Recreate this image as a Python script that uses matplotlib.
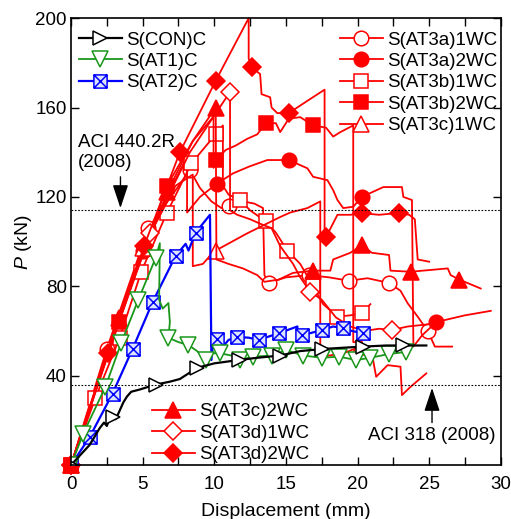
import numpy as np
import matplotlib
matplotlib.use("Agg")
import matplotlib.pyplot as plt
from matplotlib.path import Path

plt.rcParams['font.family'] = ['Liberation Sans', 'DejaVu Sans']
plt.rcParams['mathtext.fontset'] = 'custom'
plt.rcParams['mathtext.it'] = 'Liberation Sans:italic'
plt.rcParams['mathtext.rm'] = 'Liberation Sans'
FS = 13.5

# ---- data (displacement mm, load kN) ----
con_x = [0, 1.3, 2.0, 2.3, 2.5, 2.7, 2.9, 3.1, 3.3, 3.65, 3.9, 4.2, 4.8, 5.9, 6.9, 7.6, 8.8, 10, 11.7, 13, 14.6, 16, 17.5, 19, 20.4, 22, 23.2, 24.8]
con_p = [0, 9, 16.5, 19, 17.5, 21, 21.5, 20.5, 23, 28, 30.6, 32.8, 33.8, 36, 37.3, 38.5, 43.5, 45.5, 47, 48, 49, 51, 51.9, 52.5, 53, 53.5, 53.5, 53.5]
con_mk = [0, 6, 13, 16, 18, 20, 22, 24, 26]

at1_x = [0, 0.85, 2.4, 3.5, 4.7, 5.9, 6.2, 6.15, 6.4, 6.8, 6.9, 6.8, 7.5, 8.2, 8.8, 9.4, 9.9, 10.4, 11.2, 11.8, 12.7, 14, 15, 16.2, 17.5, 18.7, 19.9, 20.9, 22.2, 23.4]
at1_p = [0, 14, 35, 54.6, 74, 92.6, 99.3, 74, 70, 72.5, 64, 57, 55, 53.7, 51, 47, 50, 50, 49, 47, 48.5, 49, 51.5, 49, 48, 48.5, 47, 48, 49.7, 50.6]
at1_mk = [0, 1, 2, 3, 4, 5, 11, 13, 15, 17, 19, 20, 21, 22, 23, 24, 25, 26, 27, 28, 29]

at2_x = [0, 1.3, 2.9, 4.3, 5.7, 7.3, 8.0, 8.2, 8.7, 9.7, 9.8, 9.95, 10.2, 10.6, 11, 11.6, 12.4, 13.1, 14.5, 15.8, 15.85, 16.1, 17.5, 18.3, 19, 19.6, 20.4]
at2_p = [0, 12.5, 32, 52, 73, 93.6, 99, 96, 104, 112, 47, 57, 56.4, 53, 56, 57.3, 57, 56, 59, 62, 57, 58, 60.4, 62, 61.3, 60, 59]
at2_mk = [0, 1, 2, 3, 4, 5, 8, 12, 15, 17, 18, 21, 22, 24, 26]

a1_x = [0, 2.5, 5.4, 8.3, 9, 9.8, 10.5, 11, 12, 12.8, 13.4, 13.5, 13.8, 15, 16.6, 18, 19.4, 20.7, 22.2, 23, 23.5, 24.2, 24.9, 25.4, 26.6]
a1_p = [0, 52, 106, 132, 124, 118, 115, 116, 118, 117, 115, 85, 81.5, 84, 85, 84, 82.5, 83.6, 81.5, 78, 72.4, 66.4, 60, 53, 53]
a1_mk = [0, 1, 2, 3, 7, 12, 14, 16, 18, 22]

a2_x = [0, 2.5, 5, 7, 8.1, 8.1, 9, 10.2, 11.3, 12.4, 13.7, 15.2, 16.5, 16.9, 17.9, 18.3, 18.6, 19, 19.7, 20.3, 21.8, 23.1, 23.2, 23.8, 23.9, 24.5, 25.5, 27.5, 29.3]
a2_p = [0, 50, 96, 124, 138, 113, 120, 126, 130.5, 133.5, 136.5, 136.5, 132.8, 129, 127.5, 123, 118.6, 115, 115.6, 120, 124.4, 124.4, 120, 118.6, 53, 58, 64, 67, 69]
a2_mk = [0, 2, 7, 11, 19, 26]

b1_x = [0, 1.7, 3.4, 4.9, 6.7, 8.4, 10.1, 10.6, 10.6, 11.0, 11.8, 12.5, 13.6, 14.3, 15.1, 16.0, 16.9, 17.6, 18.6, 19.5, 20.3, 20.9]
b1_p = [0, 30, 57, 86.5, 113, 135, 148, 152, 125, 121, 118.6, 114, 109, 104, 96, 90, 80, 72, 66.4, 67, 68, 72]
b1_mk = [0, 1, 2, 3, 4, 5, 6, 10, 12, 14, 16, 18, 20]

b2_x = [0, 3.35, 6.7, 8.5, 9.95, 9.95, 10.1, 10.8, 11.5, 12.3, 13, 13.6, 14.3, 14.6, 15.2, 16, 16.9, 17.8, 18.3, 18.8, 19.7, 19.7, 20.3]
b2_p = [0, 64, 125, 145, 156, 133, 136.5, 141, 143, 146, 148, 153, 153, 149, 155, 155.7, 152, 151, 147, 149, 152, 55, 55]
b2_mk = [0, 1, 2, 6, 11, 16]

c1_x = [0, 2.4, 5, 7.3, 8.5, 8.5, 9.2, 9.9, 10.1, 12.3, 14.6, 15.3, 16.5, 17.4, 17.4, 18, 19, 20.2, 21, 21.3, 22.1, 23, 23.1, 23.7, 24.8]
c1_p = [0, 48, 97, 125, 130, 89, 90, 95, 96, 103.7, 111, 113, 115, 118, 48, 49, 50, 53, 50, 39.5, 44.7, 44, 31.3, 35, 41]
c1_mk = [0, 2, 8, 17]

c2_x = [0, 3.35, 6.7, 8.5, 10.1, 10.15, 11, 12, 13, 13.5, 14.5, 15.5, 16.9, 18.1, 18.3, 19.5, 20.3, 21, 22.2, 22.3, 23.7, 26.3, 26.5, 27.1, 28.6]
c2_p = [0, 66, 122, 145, 160, 92, 90, 88, 85, 82, 83, 86, 87, 87, 92, 95, 98.4, 95, 94, 87, 86.5, 88, 85, 83, 79]
c2_mk = [0, 1, 2, 4, 12, 16, 20, 23]

d1_x = [0, 2.6, 5.5, 8.3, 11.1, 11.1, 11.6, 12.5, 13.2, 14, 14.6, 15.5, 16, 16.7, 17.5, 18.5, 19.5, 20.5, 21.5, 22.4, 23.5, 25]
d1_p = [0, 50, 104, 140, 167, 114, 112, 110, 108, 106, 98, 90, 84, 77.5, 74, 66, 62, 60, 61, 60.4, 62, 63]
d1_mk = [0, 2, 4, 13, 19]

d2_x = [0, 2.55, 5.1, 7.6, 10.1, 12.4, 12.4, 12.6, 13.2, 13.3, 13.9, 14.0, 14.4, 15.2, 16.5, 17.7, 17.7, 17.8, 18.6, 19.5, 20.3, 21.5, 22.9, 23.6, 24.0, 24.2, 25.0]
d2_p = [0, 50, 98, 140, 172, 200, 182, 178, 175, 166, 164.6, 160, 157.5, 157.5, 163, 168, 100, 102, 112, 112, 112.7, 112, 112.8, 112, 110, 92, 91]
d2_mk = [0, 1, 2, 3, 4, 7, 13, 17, 20, 22]

aci440 = 114
aci318 = 36

# square with a cross, for S(AT2)C
box_x = Path([(-1, -1), (1, -1), (1, 1), (-1, 1), (-1, -1), (-1, -1), (1, 1), (-1, 1), (1, -1)],
             [Path.MOVETO, Path.LINETO, Path.LINETO, Path.LINETO, Path.CLOSEPOLY,
              Path.MOVETO, Path.LINETO, Path.MOVETO, Path.LINETO])

RED = '#ff0000'
fig = plt.figure(figsize=(5.11, 5.19), dpi=100)
ax = fig.add_axes([0.139, 0.104, 0.841, 0.861])

red_series = [
    (a1_x, a1_p, a1_mk, 'o', 'white', 'S(AT3a)1WC'),
    (a2_x, a2_p, a2_mk, 'o', RED, 'S(AT3a)2WC'),
    (b1_x, b1_p, b1_mk, 's', 'white', 'S(AT3b)1WC'),
    (b2_x, b2_p, b2_mk, 's', RED, 'S(AT3b)2WC'),
    (c1_x, c1_p, c1_mk, '^', 'white', 'S(AT3c)1WC'),
    (c2_x, c2_p, c2_mk, '^', RED, 'S(AT3c)2WC'),
    (d1_x, d1_p, d1_mk, 'D', 'white', 'S(AT3d)1WC'),
    (d2_x, d2_p, d2_mk, 'D', RED, 'S(AT3d)2WC'),
]
sizes = {'o': 10.5, 's': 10.5, '^': 11, 'D': 9.5}
handles = {}
for xs, ps, mk, m, fc, lab in red_series:
    h, = ax.plot(xs, ps, color=RED, lw=1.3, marker=m, ms=sizes[m], mfc=fc, mec=RED,
                 mew=1.1, markevery=mk, label=lab, clip_on=False)
    handles[lab] = h

h_at2, = ax.plot(at2_x, at2_p, color='#0000ff', lw=1.6, marker=box_x, ms=9.5, mfc='#dde4ff',
                 mec='#0000ff', mew=1.1, markevery=at2_mk, label='S(AT2)C')
h_at1, = ax.plot(at1_x, at1_p, color='#1a961a', lw=1.3, marker='v', ms=12, mfc='white',
                 mec='#1a961a', mew=1.1, markevery=at1_mk, label='S(AT1)C')
h_con, = ax.plot(con_x, con_p, color='black', lw=1.6, marker='>', ms=10, mfc='white',
                 mec='black', mew=1.1, markevery=con_mk, label='S(CON)C')

ax.axhline(aci440, color='black', lw=0.8, ls=(0, (1.5, 1.5)))
ax.axhline(aci318, color='black', lw=0.8, ls=(0, (1.5, 1.5)))

arrow = dict(arrowstyle='-|>,head_width=0.3,head_length=0.9', color='black', lw=1.0,
             mutation_scale=16, shrinkA=0, shrinkB=0)
ax.annotate('', xy=(3.45, aci440 + 1), xytext=(3.45, 129), arrowprops=arrow)
ax.text(0.5, 140, 'ACI 440.2R\n(2008)', fontsize=FS, ha='left', va='center', linespacing=1.2)
ax.annotate('', xy=(25.2, aci318 - 1.5), xytext=(25.2, 19), arrowprops=arrow)
ax.text(29.6, 13, 'ACI 318 (2008)', fontsize=FS, ha='right', va='center')

ax.set_xlim(0, 30)
ax.set_ylim(0, 200)
ax.set_xticks([0, 5, 10, 15, 20, 25, 30])
ax.set_xticks(np.arange(0, 30.1, 2.5), minor=True)
ax.set_yticks([40, 80, 120, 160, 200])
ax.tick_params(which='both', direction='in', top=True, right=True, length=6, width=1,
               labelsize=FS)
ax.tick_params(axis='x', pad=8)
ax.tick_params(axis='y', pad=3)
for s in ax.spines.values():
    s.set_linewidth(1.2)
ax.set_xlabel('Displacement (mm)', fontsize=FS + 0.5, labelpad=7)
ax.set_ylabel(r'$P$ (kN)', fontsize=FS + 0.5, labelpad=1)

leg_kw = dict(frameon=False, fontsize=FS, handlelength=2.3, handletextpad=0.25,
              labelspacing=0.23, borderpad=0.2, borderaxespad=0.2)
leg1 = ax.legend(handles=[h_con, h_at1, h_at2], loc='upper left',
                 bbox_to_anchor=(0.0, 0.987), **leg_kw)
ax.add_artist(leg1)
leg2 = ax.legend(handles=[handles[k] for k in ['S(AT3a)1WC', 'S(AT3a)2WC', 'S(AT3b)1WC',
                                                'S(AT3b)2WC', 'S(AT3c)1WC']],
                 loc='upper right', bbox_to_anchor=(1.01, 0.987), **leg_kw)
ax.add_artist(leg2)
ax.legend(handles=[handles[k] for k in ['S(AT3c)2WC', 'S(AT3d)1WC', 'S(AT3d)2WC']],
          loc='lower left', bbox_to_anchor=(0.17, -0.013), **leg_kw)

fig.savefig('out.png', dpi=100)
